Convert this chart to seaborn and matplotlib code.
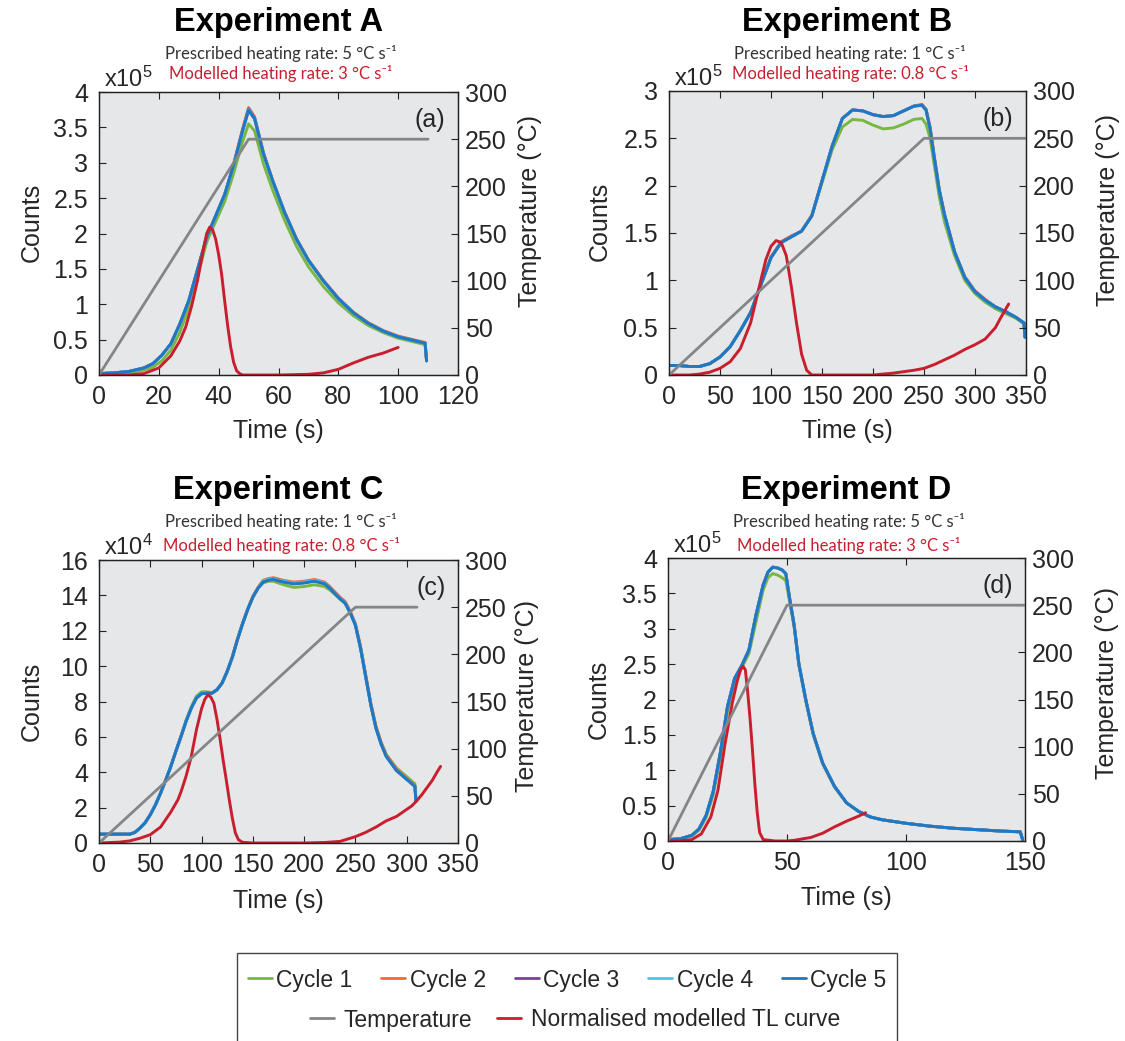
import matplotlib
matplotlib.use("Agg")
import matplotlib.pyplot as plt
import seaborn as sns
from matplotlib.lines import Line2D
from matplotlib.patches import Rectangle
from matplotlib.ticker import FuncFormatter, MultipleLocator

# ---------------- data (counts in units of the axis multiplier) ----------------
# Experiment A (x10^5)
tA = [0, 5, 10, 15, 18, 21, 24, 27, 30, 33, 36, 39, 42, 45, 48, 50, 52, 55, 58, 62, 66, 70,
      75, 80, 85, 90, 95, 100, 105, 109, 109.5]
A_c1 = [0.01, 0.02, 0.03, 0.07, 0.11, 0.20, 0.35, 0.60, 0.95, 1.40, 1.88, 2.17, 2.45, 2.85, 3.30,
        3.55, 3.45, 2.98, 2.62, 2.19, 1.82, 1.53, 1.25, 1.02, 0.84, 0.70, 0.60, 0.52, 0.47, 0.43,
        0.2]
A_c2 = [0.02, 0.03, 0.05, 0.10, 0.16, 0.28, 0.44, 0.72, 1.05, 1.50, 1.95, 2.25, 2.55, 2.98, 3.48,
        3.78, 3.65, 3.14, 2.76, 2.31, 1.93, 1.63, 1.34, 1.09, 0.89, 0.74, 0.63, 0.55, 0.50, 0.46,
        0.2]
A_c3 = [0.02, 0.03, 0.05, 0.10, 0.16, 0.28, 0.44, 0.72, 1.05, 1.50, 1.95, 2.25, 2.55, 2.97, 3.46,
        3.76, 3.63, 3.13, 2.75, 2.30, 1.92, 1.62, 1.33, 1.08, 0.88, 0.73, 0.62, 0.54, 0.49, 0.45,
        0.2]
A_c4 = [0.02, 0.03, 0.05, 0.10, 0.16, 0.28, 0.44, 0.72, 1.05, 1.50, 1.95, 2.25, 2.55, 2.97, 3.45,
        3.75, 3.62, 3.12, 2.75, 2.30, 1.92, 1.62, 1.33, 1.08, 0.88, 0.73, 0.62, 0.54, 0.49, 0.45,
        0.2]
A_c5 = [0.02, 0.03, 0.05, 0.10, 0.16, 0.28, 0.44, 0.72, 1.05, 1.50, 1.95, 2.25, 2.55, 2.97, 3.45,
        3.74, 3.62, 3.12, 2.75, 2.30, 1.92, 1.62, 1.33, 1.08, 0.88, 0.73, 0.62, 0.54, 0.49, 0.45,
        0.2]
A_temp_t = [0, 50, 110]
A_temp = [0, 250, 250]
A_red_t = [0, 10, 15, 20, 24, 27, 29, 31, 33, 35, 36, 37, 38, 39, 40, 41, 42, 43, 44, 45,
           46, 47, 48, 50, 60, 70, 75, 80, 85, 90, 95, 100]
A_red = [0, 0.0, 0.02, 0.1, 0.27, 0.48, 0.68, 0.98, 1.35, 1.8, 2.0, 2.09, 2.05, 1.92, 1.7, 1.42,
         1.05, 0.7, 0.4, 0.18, 0.06, 0.02, 0.0, 0.0, 0.0, 0.01, 0.03, 0.08, 0.17, 0.25, 0.31, 0.39]

# Experiment B (x10^5)
tB = [0, 10, 20, 30, 40, 50, 60, 70, 80, 90, 100, 110, 120, 130, 140, 150, 160, 170, 180, 190,
      200, 210, 220, 230, 240, 248, 252, 256, 260, 265, 270, 280, 290, 300, 310, 320, 330, 340,
      348, 349]
B_c1 = [0.1, 0.1, 0.09, 0.09, 0.12, 0.19, 0.3, 0.47, 0.66, 0.95, 1.24, 1.4, 1.46, 1.52, 1.68,
        2.03, 2.38, 2.62, 2.7, 2.69, 2.64, 2.6, 2.61, 2.65, 2.7, 2.71, 2.65, 2.5, 2.22, 1.88,
        1.62, 1.26, 1.0, 0.86, 0.77, 0.7, 0.65, 0.6, 0.54, 0.4]
B_c2 = [0.1, 0.1, 0.09, 0.09, 0.12, 0.19, 0.3, 0.47, 0.66, 0.95, 1.25, 1.41, 1.47, 1.52, 1.69,
        2.05, 2.42, 2.71, 2.8, 2.79, 2.75, 2.73, 2.74, 2.79, 2.84, 2.86, 2.81, 2.62, 2.32, 1.96,
        1.7, 1.3, 1.04, 0.89, 0.8, 0.72, 0.67, 0.61, 0.55, 0.4]
B_c3 = [0.1, 0.1, 0.09, 0.09, 0.12, 0.19, 0.3, 0.47, 0.66, 0.95, 1.24, 1.4, 1.46, 1.52, 1.68,
        2.05, 2.42, 2.71, 2.8, 2.79, 2.75, 2.73, 2.74, 2.79, 2.84, 2.85, 2.8, 2.6, 2.3, 1.95,
        1.7, 1.3, 1.03, 0.88, 0.79, 0.72, 0.67, 0.61, 0.55, 0.4]
B_c4 = [0.1, 0.1, 0.09, 0.09, 0.12, 0.19, 0.3, 0.47, 0.66, 0.95, 1.24, 1.4, 1.46, 1.52, 1.68,
        2.05, 2.42, 2.71, 2.8, 2.79, 2.75, 2.73, 2.74, 2.79, 2.84, 2.85, 2.8, 2.6, 2.3, 1.95,
        1.7, 1.3, 1.03, 0.88, 0.79, 0.72, 0.67, 0.61, 0.55, 0.4]
B_c5 = [0.1, 0.1, 0.09, 0.09, 0.12, 0.19, 0.3, 0.47, 0.66, 0.95, 1.24, 1.4, 1.46, 1.52, 1.68,
        2.05, 2.42, 2.71, 2.8, 2.79, 2.75, 2.73, 2.74, 2.79, 2.84, 2.85, 2.8, 2.6, 2.3, 1.95,
        1.7, 1.3, 1.03, 0.88, 0.79, 0.72, 0.67, 0.61, 0.55, 0.4]
B_temp_t = [0, 250, 350]
B_temp = [0, 250, 250]
B_red_t = [0, 20, 30, 40, 50, 60, 70, 80, 90, 95, 100, 105, 110, 115, 120, 125, 130, 135, 140,
           150, 200, 220, 240, 250, 260, 270, 280, 290, 300, 310, 320, 325, 333]
B_red = [0, 0, 0.01, 0.03, 0.07, 0.14, 0.28, 0.55, 1.0, 1.22, 1.36, 1.42, 1.4, 1.26, 0.93, 0.55,
         0.22, 0.05, 0.0, 0, 0, 0.02, 0.05, 0.07, 0.11, 0.16, 0.21, 0.27, 0.32, 0.38, 0.5, 0.6, 0.75]

# Experiment C (x10^4)
tC = [0, 10, 20, 30, 35, 40, 45, 50, 55, 60, 65, 70, 75, 80, 85, 90, 95, 100, 105, 110, 115,
      120, 125, 130, 135, 140, 145, 150, 155, 160, 165, 170, 180, 190, 200, 210, 220, 225, 230,
      235, 240, 245, 250, 255, 260, 265, 270, 275, 280, 290, 300, 305, 308, 309]
C_c1 = [0.5, 0.5, 0.5, 0.5, 0.6, 0.85, 1.15, 1.6, 2.15, 2.82, 3.55, 4.33, 5.2, 6.05, 6.95, 7.7,
        8.3, 8.55, 8.55, 8.5, 8.66, 9.04, 9.7, 10.5, 11.5, 12.4, 13.2, 13.9, 14.4, 14.7, 14.8,
        14.8, 14.6, 14.45, 14.5, 14.6, 14.5, 14.3, 14.05, 13.8, 13.55, 13.0, 12.35, 11.1, 9.5,
        7.9, 6.6, 5.7, 5.0, 4.25, 3.75, 3.5, 3.35, 2.5]
C_c2 = [0.5, 0.5, 0.5, 0.5, 0.6, 0.85, 1.15, 1.6, 2.15, 2.82, 3.55, 4.33, 5.2, 6.03, 6.9, 7.63,
        8.2, 8.44, 8.5, 8.48, 8.68, 9.06, 9.72, 10.55, 11.55, 12.45, 13.25, 13.95, 14.45, 14.85,
        14.95, 15.0, 14.85, 14.75, 14.8, 14.9, 14.75, 14.5, 14.2, 13.9, 13.65, 13.1, 12.4, 11.1,
        9.5, 7.9, 6.6, 5.7, 5.0, 4.2, 3.65, 3.4, 3.25, 2.4]
C_c3 = [0.5, 0.5, 0.5, 0.5, 0.6, 0.85, 1.15, 1.6, 2.15, 2.82, 3.55, 4.33, 5.2, 6.03, 6.9, 7.63,
        8.2, 8.44, 8.47, 8.46, 8.66, 9.04, 9.7, 10.5, 11.5, 12.4, 13.2, 13.9, 14.4, 14.78, 14.88,
        14.92, 14.78, 14.68, 14.72, 14.82, 14.68, 14.42, 14.12, 13.82, 13.57, 13.02, 12.32, 11.0,
        9.4, 7.8, 6.5, 5.6, 4.9, 4.1, 3.6, 3.35, 3.2, 2.35]
C_c4 = [0.5, 0.5, 0.5, 0.5, 0.6, 0.85, 1.15, 1.6, 2.15, 2.82, 3.55, 4.33, 5.2, 6.03, 6.9, 7.63,
        8.2, 8.44, 8.47, 8.46, 8.66, 9.04, 9.7, 10.5, 11.5, 12.4, 13.2, 13.9, 14.4, 14.8, 14.9,
        14.93, 14.8, 14.7, 14.75, 14.85, 14.7, 14.42, 14.12, 13.82, 13.57, 13.02, 12.32, 11.0,
        9.4, 7.8, 6.5, 5.6, 4.9, 4.1, 3.6, 3.35, 3.2, 2.35]
C_c5 = [0.5, 0.5, 0.5, 0.5, 0.6, 0.85, 1.15, 1.6, 2.15, 2.82, 3.55, 4.33, 5.2, 6.03, 6.9, 7.63,
        8.2, 8.44, 8.47, 8.46, 8.66, 9.04, 9.7, 10.5, 11.5, 12.4, 13.2, 13.9, 14.4, 14.75, 14.85,
        14.9, 14.75, 14.65, 14.7, 14.8, 14.65, 14.4, 14.1, 13.8, 13.55, 13.0, 12.3, 11.0, 9.4,
        7.8, 6.5, 5.6, 4.9, 4.1, 3.6, 3.35, 3.2, 2.35]
C_temp_t = [0, 250, 310]
C_temp = [0, 250, 250]
C_red_t = [0, 20, 30, 40, 50, 60, 70, 77, 80, 85, 90, 95, 100, 103, 106, 109, 112, 115, 118,
           121, 124, 127, 130, 133, 136, 140, 150, 200, 220, 235, 250, 260, 270, 280, 290, 300,
           305, 310, 315, 320, 325, 330, 333]
C_red = [0, 0.05, 0.12, 0.27, 0.47, 0.9, 1.75, 2.45, 2.9, 3.8, 4.9, 6.4, 7.6, 8.1, 8.38, 8.25,
         7.9, 7.0, 5.9, 4.7, 3.6, 2.45, 1.4, 0.56, 0.18, 0.04, 0.0, 0.0, 0.03, 0.09, 0.36, 0.6,
         0.9, 1.25, 1.5, 1.9, 2.1, 2.4, 2.75, 3.15, 3.55, 4.05, 4.33]

# Experiment D (x10^5)
tD = [0, 5, 10, 13, 16, 19, 22, 25, 28, 31, 34, 37, 40, 42, 44, 46, 48, 49.5, 51, 53, 55, 58,
      61, 65, 70, 75, 80, 85, 90, 100, 110, 120, 130, 140, 148, 149]
D_c1 = [0.02, 0.03, 0.07, 0.15, 0.33, 0.65, 1.18, 1.82, 2.25, 2.45, 2.65, 3.1, 3.55, 3.72, 3.78,
        3.76, 3.72, 3.68, 3.4, 3.02, 2.48, 1.96, 1.5, 1.09, 0.76, 0.54, 0.42, 0.34, 0.3, 0.25,
        0.21, 0.18, 0.16, 0.14, 0.13, 0.02]
D_c2 = [0.02, 0.03, 0.08, 0.17, 0.36, 0.7, 1.25, 1.9, 2.3, 2.48, 2.7, 3.2, 3.62, 3.8, 3.87, 3.86,
        3.83, 3.78, 3.45, 3.05, 2.5, 1.98, 1.52, 1.1, 0.77, 0.54, 0.42, 0.34, 0.3, 0.25, 0.21,
        0.18, 0.16, 0.14, 0.13, 0.02]
D_c3 = [0.02, 0.03, 0.08, 0.17, 0.36, 0.7, 1.25, 1.9, 2.3, 2.48, 2.7, 3.2, 3.62, 3.8, 3.87, 3.86,
        3.83, 3.78, 3.45, 3.05, 2.5, 1.98, 1.52, 1.1, 0.77, 0.54, 0.42, 0.34, 0.3, 0.25, 0.21,
        0.18, 0.16, 0.14, 0.13, 0.02]
D_c4 = [0.02, 0.03, 0.08, 0.17, 0.36, 0.7, 1.25, 1.9, 2.3, 2.48, 2.7, 3.2, 3.62, 3.8, 3.87, 3.86,
        3.83, 3.78, 3.45, 3.05, 2.5, 1.98, 1.52, 1.1, 0.77, 0.54, 0.42, 0.34, 0.3, 0.25, 0.21,
        0.18, 0.16, 0.14, 0.13, 0.02]
D_c5 = [0.02, 0.03, 0.08, 0.17, 0.36, 0.7, 1.25, 1.9, 2.3, 2.48, 2.7, 3.2, 3.62, 3.8, 3.87, 3.86,
        3.83, 3.78, 3.45, 3.05, 2.5, 1.98, 1.52, 1.1, 0.77, 0.54, 0.42, 0.34, 0.3, 0.25, 0.21,
        0.18, 0.16, 0.14, 0.13, 0.02]
D_temp_t = [0, 50, 150]
D_temp = [0, 250, 250]
D_red_t = [0, 5, 10, 14, 18, 21, 24, 27, 29, 30.5, 31.5, 32.5, 33.5, 34.5, 35.5, 36.5, 37.5,
           38.5, 40, 45, 50, 53, 60, 65, 70, 75, 80, 83]
D_red = [0, 0, 0.02, 0.1, 0.34, 0.72, 1.38, 1.95, 2.25, 2.42, 2.47, 2.42, 2.1, 1.72, 1.28, 0.8,
         0.4, 0.12, 0.02, 0, 0.0, 0.01, 0.05, 0.11, 0.2, 0.28, 0.35, 0.4]

titles = ["Experiment A", "Experiment B", "Experiment C", "Experiment D"]
panel_tags = ["(a)", "(b)", "(c)", "(d)"]
prescribed_rates = ["5", "1", "1", "5"]
modelled_rates = ["3", "0.8", "0.8", "3"]
exponents = ["5", "5", "4", "5"]
cycle_labels = ["Cycle 1", "Cycle 2", "Cycle 3", "Cycle 4", "Cycle 5"]
other_labels = ["Temperature", "Normalised modelled TL curve"]

# ---------------- style ----------------
sns.set_theme(style="white")
plt.rcParams["font.family"] = ["Liberation Sans", "DejaVu Sans"]
plt.rcParams["mathtext.fontset"] = "custom"
plt.rcParams["mathtext.rm"] = "Liberation Sans"
plt.rcParams["mathtext.it"] = "Liberation Sans:italic"
plt.rcParams["mathtext.bf"] = "Liberation Sans:bold"

cycle_colors = ["#77b843", "#ef6b3a", "#7b3f9e", "#4cc4f2", "#1f78c1"]
temp_color = "#858585"
red_color = "#c81e2e"
bg = "#e6e7e9"
spine_col = "#222222"

W, H = 1125, 1041
fig = plt.figure(figsize=(W / 100, H / 100), dpi=100)


def frac_rect(l, r, t, b):
    return [l / W, 1 - b / H, (r - l) / W, (b - t) / H]


panels = [
    dict(rect=frac_rect(99, 458, 92, 375), t=tA, cyc=[A_c1, A_c2, A_c3, A_c4, A_c5],
         tt=A_temp_t, tv=A_temp, rt=A_red_t, rv=A_red, xlim=120, xstep=20, ylim=4, ystep=0.5,
         head=(278, 22, 53, 74), xl=-0.155, yl=(-0.153, 0.54), tl=(1.167, 0.58)),
    dict(rect=frac_rect(669, 1026, 91, 375), t=tB, cyc=[B_c1, B_c2, B_c3, B_c4, B_c5],
         tt=B_temp_t, tv=B_temp, rt=B_red_t, rv=B_red, xlim=350, xstep=50, ylim=3, ystep=0.5,
         head=(847, 22, 53, 74), xl=-0.155, yl=(-0.16, 0.54), tl=(1.196, 0.58)),
    dict(rect=frac_rect(99, 458, 560, 843), t=tC, cyc=[C_c1, C_c2, C_c3, C_c4, C_c5],
         tt=C_temp_t, tv=C_temp, rt=C_red_t, rv=C_red, xlim=350, xstep=50, ylim=16, ystep=2,
         head=(278, 490, 522, 545), xl=-0.163, yl=(-0.153, 0.5), tl=(1.159, 0.52)),
    dict(rect=frac_rect(668, 1025, 558, 841), t=tD, cyc=[D_c1, D_c2, D_c3, D_c4, D_c5],
         tt=D_temp_t, tv=D_temp, rt=D_red_t, rv=D_red, xlim=150, xstep=50, ylim=4, ystep=0.5,
         head=(846, 490, 522, 545), xl=-0.16, yl=(-0.16, 0.5), tl=(1.196, 0.56)),
]

fmt = FuncFormatter(lambda v, pos: f"{v:g}")
sub_family = ["Lato", "DejaVu Sans"]

for i, p in enumerate(panels):
    ax = fig.add_axes(p["rect"])
    ax.set_facecolor(bg)
    for vals, col in zip(p["cyc"], cycle_colors):
        sns.lineplot(x=p["t"], y=vals, ax=ax, color=col, lw=2.1, estimator=None, sort=False,
                     legend=False)
    sns.lineplot(x=p["rt"], y=p["rv"], ax=ax, color=red_color, lw=2.1, estimator=None,
                 sort=False, legend=False)
    ax2 = ax.twinx()
    sns.lineplot(x=p["tt"], y=p["tv"], ax=ax2, color=temp_color, lw=2.0, estimator=None,
                 sort=False, legend=False)

    ax.set_xlim(0, p["xlim"])
    ax.set_ylim(0, p["ylim"])
    ax2.set_ylim(0, 300)
    ax.xaxis.set_major_locator(MultipleLocator(p["xstep"]))
    ax.yaxis.set_major_locator(MultipleLocator(p["ystep"]))
    ax2.yaxis.set_major_locator(MultipleLocator(50))
    ax.xaxis.set_major_formatter(fmt)
    ax.yaxis.set_major_formatter(fmt)
    ax2.yaxis.set_major_formatter(fmt)

    ax.tick_params(axis="x", direction="in", length=5, width=0.8, labelsize=18, pad=7,
                   top=True, bottom=True, color=spine_col)
    ax.tick_params(axis="y", direction="in", length=5, width=0.8, labelsize=18, pad=8,
                   left=True, right=False, color=spine_col)
    ax2.tick_params(axis="y", direction="in", length=5, width=0.8, labelsize=18, pad=5,
                    right=True, left=False, color=spine_col)
    ax2.tick_params(axis="x", top=False, bottom=False, labeltop=False, labelbottom=False)

    for a in (ax, ax2):
        for s in a.spines.values():
            s.set_color(spine_col)
            s.set_linewidth(0.9)

    ax.set_xlabel("Time (s)", fontsize=18)
    ax.set_ylabel("Counts", fontsize=18)
    ax2.set_ylabel("Temperature (°C)", fontsize=18)
    ax.xaxis.set_label_coords(0.5, p["xl"])
    ax.yaxis.set_label_coords(*p["yl"])
    ax2.yaxis.set_label_coords(*p["tl"])

    ax.text(0.965, 0.90, panel_tags[i], transform=ax.transAxes, ha="right", va="center",
            fontsize=18)
    ax.text(0.015, 1.0, "x10$^{" + exponents[i] + "}$", transform=ax.transAxes,
            ha="left", va="bottom", fontsize=17)

    cx, ty, s1, s2 = p["head"]
    fig.text(cx / W, 1 - ty / H, titles[i], ha="center", va="center", fontsize=23.5,
             fontweight="bold", color="black")
    fig.text((cx + 3) / W, 1 - s1 / H, f"Prescribed heating rate: {prescribed_rates[i]} °C s⁻¹",
             ha="center", va="center", fontsize=12, color="#333333", family=sub_family)
    fig.text((cx + 3) / W, 1 - s2 / H, f"Modelled heating rate: {modelled_rates[i]} °C s⁻¹",
             ha="center", va="center", fontsize=12, color=red_color, family=sub_family)

# ---------------- legend ----------------
h1 = [Line2D([], [], color=c, lw=2.0) for c in cycle_colors]
h2 = [Line2D([], [], color=temp_color, lw=2.0), Line2D([], [], color=red_color, lw=2.0)]
fig.legend(h1, cycle_labels, loc="center", bbox_to_anchor=(567 / W, 1 - 980 / H), ncol=5,
           frameon=False, fontsize=16.5, handlelength=1.05, handletextpad=0.2,
           columnspacing=1.25)
fig.legend(h2, other_labels, loc="center", bbox_to_anchor=(575 / W, 1 - 1020 / H), ncol=2,
           frameon=False, fontsize=16.5, handlelength=1.05, handletextpad=0.4,
           columnspacing=1.1)
fig.add_artist(Rectangle((237 / W, -0.01), (897 - 237) / W, 0.01 + (1 - 953 / H),
                         transform=fig.transFigure, fill=False, edgecolor="#444444", lw=1.0))

fig.savefig("out.png", dpi=100)
